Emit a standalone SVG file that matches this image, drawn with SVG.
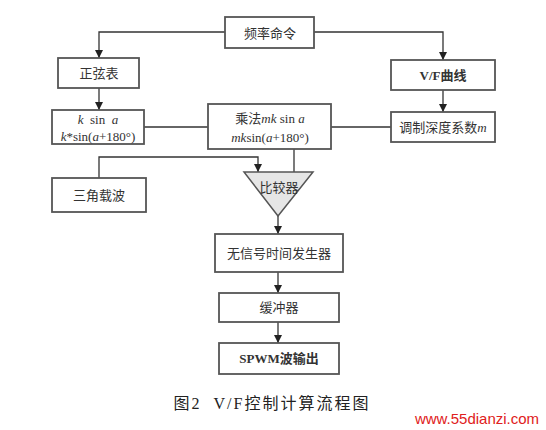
<svg xmlns="http://www.w3.org/2000/svg" width="546" height="430" viewBox="0 0 546 430">
<defs>
<marker id="arr" markerWidth="10" markerHeight="10" refX="9" refY="5" orient="auto" markerUnits="userSpaceOnUse">
<path d="M1,1 L9,5 L1,9 Z" fill="#222"/>
</marker>
<style>
.box{fill:#fff;stroke:#555;stroke-width:1.8}
.ln{fill:none;stroke:#333;stroke-width:1.3}
.t{font-family:"Liberation Serif","Noto Sans CJK SC",serif;font-size:13px;fill:#333;text-anchor:middle;dominant-baseline:central;white-space:pre}
.b{font-weight:bold}
.i{font-style:italic}
</style>
</defs>
<rect width="546" height="430" fill="#fff"/>
<g id="connectors">
<polyline class="ln" points="225,32 99,32 99,58" marker-end="url(#arr)"/>
<polyline class="ln" points="314,32 443,32 443,60" marker-end="url(#arr)"/>
<line class="ln" x1="99" y1="88" x2="99" y2="110" marker-end="url(#arr)"/>
<line class="ln" x1="443" y1="90" x2="443" y2="112" marker-end="url(#arr)"/>
<line class="ln" x1="144" y1="127" x2="208" y2="127"/>
<line class="ln" x1="331" y1="127" x2="391" y2="127"/>
<line class="ln" x1="294" y1="149" x2="294" y2="172"/>
<polyline class="ln" points="99,178 99,157 258,157 258,172" marker-end="url(#arr)"/>
<line class="ln" x1="278" y1="216" x2="278" y2="234" marker-end="url(#arr)"/>
<line class="ln" x1="278" y1="272" x2="278" y2="293" marker-end="url(#arr)"/>
<line class="ln" x1="278" y1="322" x2="278" y2="343" marker-end="url(#arr)"/>
</g>
<g id="freq"><rect class="box" x="225" y="17" width="89" height="31"/><text class="t" x="270" y="33">频率命令</text></g>
<g id="sintable"><rect class="box" x="58" y="58" width="81" height="30"/><text class="t" x="99" y="73">正弦表</text></g>
<g id="vf"><rect class="box" x="391" y="60" width="104" height="30"/><text class="t b" x="443" y="75">V/F曲线</text></g>
<g id="ksin"><rect class="box" x="52" y="110" width="92" height="34"/>
<text class="t" x="98" y="119"><tspan class="i">k</tspan>  sin  <tspan class="i">a</tspan></text>
<text class="t" x="98" y="136"><tspan class="i">k</tspan>*sin(<tspan class="i">a</tspan>+180°)</text></g>
<g id="mult"><rect class="box" x="208" y="104" width="123" height="45"/>
<text class="t" x="270" y="118">乘法<tspan class="i">mk</tspan> sin <tspan class="i">a</tspan></text>
<text class="t" x="270" y="137"><tspan class="i">mk</tspan>sin(<tspan class="i">a</tspan>+180°)</text></g>
<g id="depth"><rect class="box" x="391" y="112" width="104" height="30"/><text class="t" x="443" y="127">调制深度系数<tspan class="i">m</tspan></text></g>
<g id="tri"><rect class="box" x="52" y="178" width="94" height="34"/><text class="t" x="99" y="195">三角载波</text></g>
<g id="comp"><polygon points="244,172 313,172 278,216" fill="#e6e6e6" stroke="#555" stroke-width="1.5"/><text class="t" x="279" y="187">比较器</text></g>
<g id="deadtime"><rect class="box" x="215" y="234" width="128" height="38"/><text class="t" x="279" y="253">无信号时间发生器</text></g>
<g id="buffer"><rect class="box" x="219" y="293" width="120" height="29"/><text class="t" x="279" y="307">缓冲器</text></g>
<g id="spwm"><rect class="box" x="219" y="343" width="120" height="31"/><text class="t b" x="279" y="358">SPWM波输出</text></g>
<text x="272" y="403" font-family="Liberation Serif,Noto Sans CJK SC,serif" font-size="16" fill="#222" text-anchor="middle" dominant-baseline="central" letter-spacing="2" style="white-space:pre">图2  V/F控制计算流程图</text>
<text x="477" y="418" font-family="Liberation Sans,Arial,sans-serif" font-size="15" fill="#e02020" text-anchor="middle" dominant-baseline="central">www.55dianzi.com</text>
</svg>
